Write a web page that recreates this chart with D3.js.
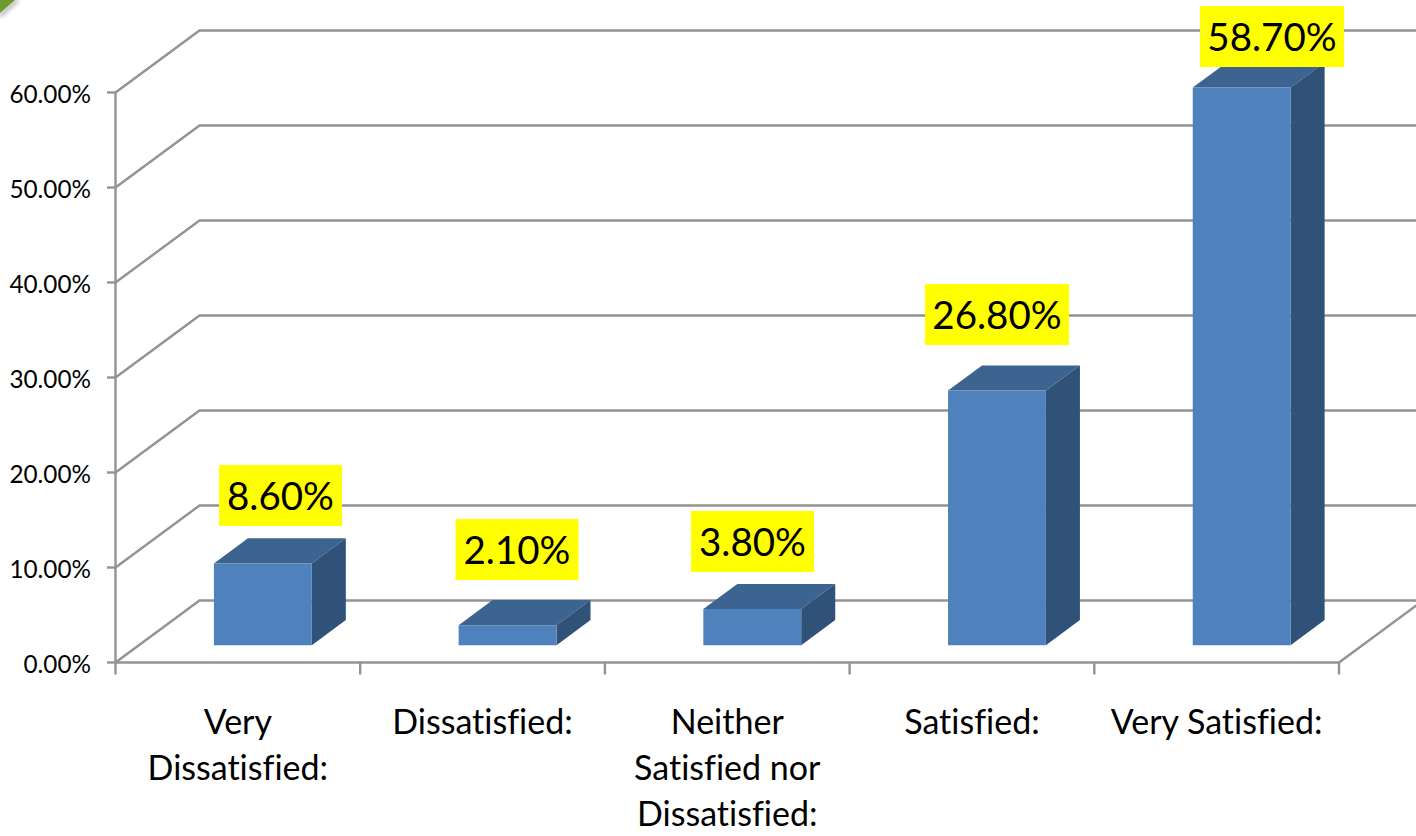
<!DOCTYPE html>
<html><head><meta charset="utf-8">
<script src="https://cdn.jsdelivr.net/npm/d3@7"></script>
<style>html,body{margin:0;padding:0;background:#fff;overflow:hidden}svg{display:block}text{font-family:Lato,"Open Sans",sans-serif;font-variant-ligatures:none}</style>
</head><body><svg id="c" width="1416" height="836"></svg>
<script>
const categories=["Very Dissatisfied:","Dissatisfied:","Neither Satisfied nor Dissatisfied:","Satisfied:","Very Satisfied:"];
const categoryLines=[["Very","Dissatisfied:"],["Dissatisfied:"],["Neither","Satisfied nor","Dissatisfied:"],["Satisfied:"],["Very Satisfied:"]];
const values=[8.6,2.1,3.8,26.8,58.7];
const valueLabels=["8.60%","2.10%","3.80%","26.80%","58.70%"];
const yTicks=[0,10,20,30,40,50,60];
const yTickLabels=["0.00%","10.00%","20.00%","30.00%","40.00%","50.00%","60.00%"];

const svg=d3.select("#c");
const y=d3.scaleLinear().domain([0,60]).range([662.5,92.5]);
const x=d3.scaleBand().domain(categories).range([117,1340.5]).paddingInner(0.6).paddingOuter(0.3);
const xOuter=d3.scaleBand().domain(categories).range([115.5,1339]);
const dzx=d3.scaleLinear().domain([0,1]).range([0,84]);
const dzy=d3.scaleLinear().domain([0,1]).range([0,-62]);
const gridC="#939393";

// corner ornament
const defs=svg.append("defs");
const f=defs.append("filter").attr("id","sh").attr("x","-50%").attr("y","-50%").attr("width","200%").attr("height","200%");
f.append("feGaussianBlur").attr("stdDeviation",2);
const f2=defs.append("filter").attr("id","soft").attr("x","-5%").attr("y","-5%").attr("width","110%").attr("height","110%");
f2.append("feGaussianBlur").attr("stdDeviation",0.35);
svg.append("path").attr("d","M0,13 L15,0 L20,0 L0,18Z").attr("fill","#aaa").attr("filter","url(#sh)");
svg.append("path").attr("d","M0,0 L15,0 L0,13Z").attr("fill","#6f9a2c");

// gridlines: floor/wall
const grid=svg.append("g").attr("stroke",gridC).attr("stroke-width",2.4).attr("fill","none").attr("filter","url(#soft)");
grid.selectAll("path.g").data(yTicks).join("path").attr("class","g")
  .attr("d",d=>d3.line()([[115.5,y(d)],[115.5+dzx(1),y(d)+dzy(1)],[1430,y(d)+dzy(1)]]));
grid.append("line").attr("x1",115.5).attr("x2",115.5).attr("y1",y(60)).attr("y2",y(0));
grid.append("line").attr("x1",115.5).attr("x2",1339).attr("y1",y(0)).attr("y2",y(0));
grid.append("line").attr("x1",1339).attr("x2",1339+dzx(1)).attr("y1",y(0)).attr("y2",y(0)+dzy(1));
grid.selectAll("line.yt").data(yTicks).join("line").attr("class","yt").attr("x1",107).attr("x2",115.5).attr("y1",d=>y(d)).attr("y2",d=>y(d));
const xTickPos=categories.map(c=>xOuter(c)).concat([1339]);
grid.selectAll("line.xt").data(xTickPos).join("line").attr("class","xt").attr("x1",d=>d).attr("x2",d=>d).attr("y1",y(0)).attr("y2",y(0)+12);

// y labels
svg.selectAll("text.yl").data(yTicks).join("text").attr("class","yl")
  .attr("x",91).attr("y",(d,i)=>y(d)+10).attr("text-anchor","end").attr("font-size",24.3).attr("fill","#000")
  .text((d,i)=>yTickLabels[i]);

// bars
const zFront=0.28, zBack=0.685;
const bars=svg.selectAll("g.bar").data(categories).join("g").attr("class","bar");
const pt=(px,val,z)=>[px+dzx(z),y(val)+dzy(z)];
bars.append("path").attr("fill","#3d6391").attr("d",(c,i)=>{const a=x(c),b=a+x.bandwidth(),v=values[i];
  return d3.line()([pt(a,v,zFront),pt(b,v,zFront),pt(b,v,zBack),pt(a,v,zBack)])+"Z";});
bars.append("path").attr("fill","#305278").attr("d",(c,i)=>{const b=x(c)+x.bandwidth(),v=values[i];
  return d3.line()([pt(b,0,zFront),pt(b,v,zFront),pt(b,v,zBack),pt(b,0,zBack)])+"Z";});
bars.append("path").attr("fill","#4f81bd").attr("d",(c,i)=>{const a=x(c),b=a+x.bandwidth(),v=values[i];
  return d3.line()([pt(a,0,zFront),pt(b,0,zFront),pt(b,v,zFront),pt(a,v,zFront)])+"Z";});

// value labels
const labelW=[123,123,123,144,144];
const labelCx=[280.5,517,752.5,997,1272];
const labelTop=[465,519,511,284,6];
const labelH=61;
const lg=svg.selectAll("g.vl").data(valueLabels).join("g").attr("class","vl");
lg.append("rect").attr("x",(d,i)=>labelCx[i]-labelW[i]/2).attr("y",(d,i)=>labelTop[i]).attr("width",(d,i)=>labelW[i]).attr("height",labelH).attr("fill","#ffff00");
lg.append("text").attr("x",(d,i)=>labelCx[i]).attr("y",(d,i)=>labelTop[i]+45).attr("text-anchor","middle").attr("font-size",38.5).attr("fill","#000").text(d=>d);

// category labels
const cg=svg.selectAll("g.cat").data(categories).join("g").attr("class","cat");
cg.selectAll("text").data((c,i)=>categoryLines[i].map(t=>({t,c}))).join("text")
  .attr("x",d=>xOuter(d.c)+xOuter.bandwidth()/2).attr("y",(d,j)=>734+j*46)
  .attr("text-anchor","middle").attr("font-size",34).attr("fill","#000").text(d=>d.t);
</script></body></html>
